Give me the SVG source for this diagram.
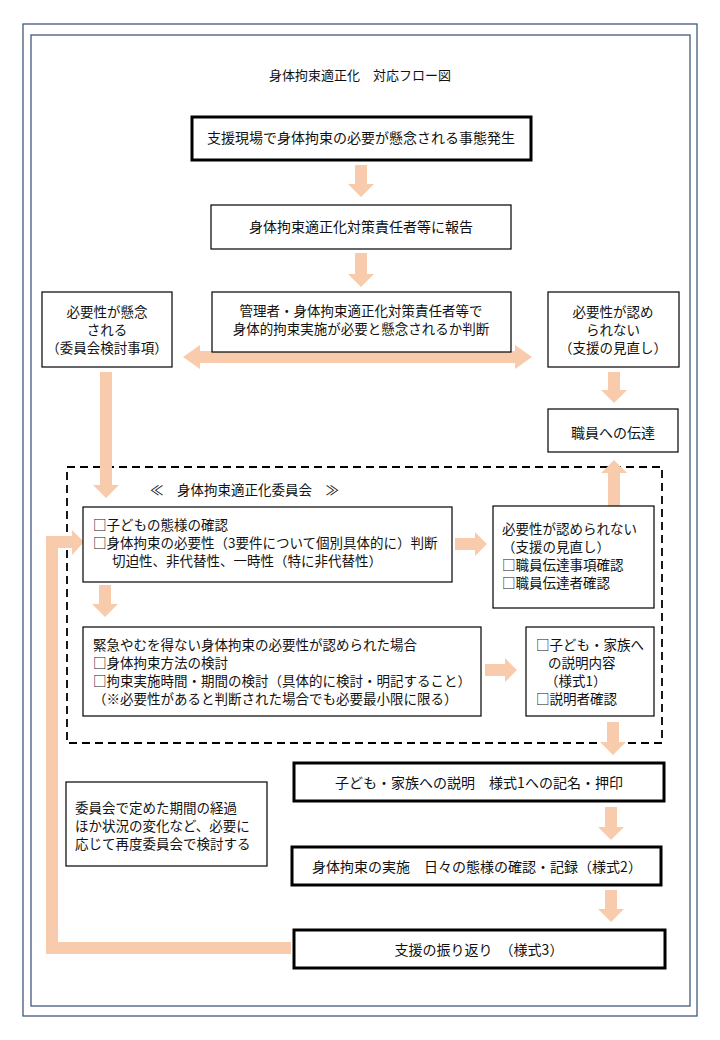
<svg xmlns="http://www.w3.org/2000/svg" width="720" height="1040" viewBox="0 0 720 1040">
<style>
text{font-family:"Noto Sans CJK JP","Noto Sans",sans-serif;font-size:14px;fill:#111}
.c{text-anchor:middle}
.m{font-size:13.5px}
.box{fill:#fff;stroke:#000;stroke-width:1.2}
.tbox{fill:#fff;stroke:#000;stroke-width:3}
.frame{fill:none;stroke:#41597a;stroke-width:1.3}
.arr{fill:#F8CBAD;stroke:none}
</style>
<rect width="720" height="1040" fill="#fff"/>
<rect class="frame" x="23" y="24" width="674" height="992"/>
<rect class="frame" x="31" y="35" width="659" height="971"/>
<text class="c" x="360" y="80" style="font-size:13px">身体拘束適正化　対応フロー図</text>
<rect x="67" y="467" width="595" height="276" fill="none" stroke="#000" stroke-width="1.8" stroke-dasharray="8 5"/>
<text x="150" y="495" style="font-size:13.5px">≪　身体拘束適正化委員会　≫</text>
<g id="connectors">
<polygon class="arr" points="355,165 367,165 367,184 374,184 361,197 348,184 355,184"/>
<polygon class="arr" points="355,253 367,253 367,274 374,274 361,287 348,274 355,274"/>
<polygon class="arr" points="183,357 200,345 200,351 515,351 515,345 532,357 515,369 515,363 200,363 200,369"/>
<polygon class="arr" points="100,372 112,372 112,485 119,485 106,498 93,485 100,485"/>
<polygon class="arr" points="608,372 620,372 620,390 627,390 614,403 601,390 608,390"/>
<polygon class="arr" points="608,506 620,506 620,473 627,473 614,460 601,473 608,473"/>
<polygon class="arr" points="455,538 475,538 475,532 487,544 475,556 475,550 455,550"/>
<polygon class="arr" points="99,585 111,585 111,604 118,604 105,617 92,604 99,604"/>
<polygon class="arr" points="485,664 505,664 505,658 517,670 505,682 505,676 485,676"/>
<polygon class="arr" points="607,722 619,722 619,742 626,742 613,755 600,742 607,742"/>
<polygon class="arr" points="605,807 617,807 617,827 624,827 611,840 598,827 605,827"/>
<polygon class="arr" points="605,890 617,890 617,909 624,909 611,922 598,909 605,909"/>
<path d="M291 948 H52 V542 H73" fill="none" stroke="#F8CBAD" stroke-width="12" stroke-linejoin="miter"/>
<polygon class="arr" points="72,530 84,542 72,555"/>
</g>
<g id="n1"><rect class="tbox" x="192" y="117" width="339" height="43"/><text class="c" x="361" y="143">支援現場で身体拘束の必要が懸念される事態発生</text></g>
<g id="n2"><rect class="box" x="211" y="205" width="300" height="44"/><text class="c" x="361" y="232">身体拘束適正化対策責任者等に報告</text></g>
<g id="n3"><rect class="box" x="212" y="292" width="299" height="60"/><text class="c m" x="361" y="316">管理者・身体拘束適正化対策責任者等で</text><text class="c m" x="361" y="334">身体的拘束実施が必要と懸念されるか判断</text></g>
<g id="n4"><rect class="box" x="42" y="292" width="130" height="75"/><text class="c m" x="107" y="317">必要性が懸念</text><text class="c m" x="107" y="335">される</text><text class="c m" x="107" y="353">（委員会検討事項）</text></g>
<g id="n5"><rect class="box" x="548" y="292" width="131" height="75"/><text class="c m" x="613" y="317">必要性が認め</text><text class="c m" x="613" y="335">られない</text><text class="c m" x="613" y="353">（支援の見直し）</text></g>
<g id="n6"><rect class="box" x="548" y="409" width="130" height="43"/><text class="c" x="613" y="438">職員への伝達</text></g>
<g id="n7"><rect class="box" x="83" y="507" width="369" height="75"/><text class="m" x="93" y="530">□子どもの態様の確認</text><text class="m" x="93" y="548">□身体拘束の必要性（3要件について個別具体的に）判断</text><text class="m" x="112" y="566">切迫性、非代替性、一時性（特に非代替性）</text></g>
<g id="n8"><rect class="box" x="493" y="506" width="161" height="102"/><text class="m" x="502" y="534">必要性が認められない</text><text class="m" x="502" y="552">（支援の見直し）</text><text class="m" x="502" y="570">□職員伝達事項確認</text><text class="m" x="502" y="588">□職員伝達者確認</text></g>
<g id="n9"><rect class="box" x="83" y="627" width="398" height="89"/><text class="m" x="93" y="650">緊急やむを得ない身体拘束の必要性が認められた場合</text><text class="m" x="93" y="668">□身体拘束方法の検討</text><text class="m" x="93" y="686">□拘束実施時間・期間の検討（具体的に検討・明記すること）</text><text class="m" x="93" y="704">（※必要性があると判断された場合でも必要最小限に限る）</text></g>
<g id="n10"><rect class="box" x="526" y="627" width="128" height="89"/><text class="m" x="536" y="650">□子ども・家族へ</text><text class="m" x="548" y="668">の説明内容</text><text class="m" x="545" y="686">（様式1）</text><text class="m" x="536" y="704">□説明者確認</text></g>
<g id="n11"><rect class="tbox" x="294" y="763" width="370" height="38"/><text class="c" x="479" y="788">子ども・家族への説明　様式1への記名・押印</text></g>
<g id="n12"><rect class="box" x="66" y="782" width="201" height="84"/><text class="m" x="75" y="813">委員会で定めた期間の経過</text><text class="m" x="75" y="831">ほか状況の変化など、必要に</text><text class="m" x="75" y="849">応じて再度委員会で検討する</text></g>
<g id="n13"><rect class="tbox" x="292" y="847" width="369" height="38"/><text class="c" x="477" y="872">身体拘束の実施　日々の態様の確認・記録（様式2）</text></g>
<g id="n14"><rect class="tbox" x="294" y="930" width="371" height="38"/><text class="c" x="479" y="955">支援の振り返り　（様式3）</text></g>
</svg>
